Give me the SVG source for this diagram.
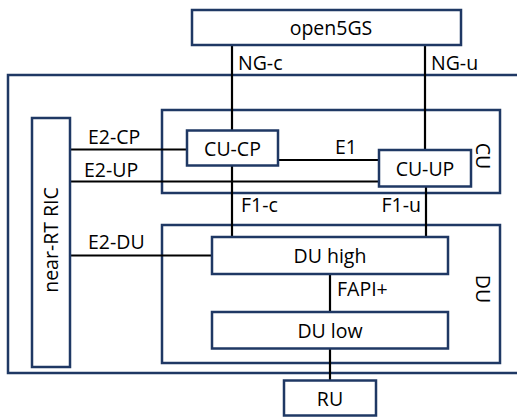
<svg xmlns="http://www.w3.org/2000/svg" width="517" height="417" viewBox="0 0 517 417">
<style>
.box{fill:#fff;stroke:#1f3864;stroke-width:2.5}
.frame{fill:none;stroke:#1f3864;stroke-width:2.5}
.ln{stroke:#000;stroke-width:2.2;fill:none}
text{font-family:"Open Sans","Noto Sans",sans-serif;font-size:19.5px;fill:#000}
.c{text-anchor:middle}
</style>
<rect width="517" height="417" fill="#fff"/>
<g id="outer"><rect class="frame" x="8" y="75" width="520" height="298"/></g>
<g id="cu"><rect class="frame" x="162" y="110" width="338" height="83"/><text class="c" transform="translate(476,156) rotate(90)">CU</text></g>
<g id="du"><rect class="frame" x="162" y="225" width="338" height="138"/><text class="c" transform="translate(476,289) rotate(90)">DU</text></g>
<g id="connectors">
<line class="ln" x1="232" y1="45" x2="232" y2="130"/>
<line class="ln" x1="425" y1="45" x2="425" y2="150"/>
<line class="ln" x1="70" y1="149.5" x2="187" y2="149.5"/>
<line class="ln" x1="70" y1="181.5" x2="379" y2="181.5"/>
<line class="ln" x1="278" y1="160" x2="379" y2="160"/>
<line class="ln" x1="232" y1="166" x2="232" y2="237"/>
<line class="ln" x1="426" y1="187" x2="426" y2="237"/>
<line class="ln" x1="70" y1="255.5" x2="212" y2="255.5"/>
<line class="ln" x1="330" y1="274" x2="330" y2="312"/>
<line class="ln" x1="330" y1="349" x2="330" y2="380"/>
<text x="238" y="70">NG-c</text>
<text x="431" y="70">NG-u</text>
<text x="88" y="144">E2-CP</text>
<text x="84" y="177">E2-UP</text>
<text class="c" x="346" y="154">E1</text>
<text x="241" y="212">F1-c</text>
<text x="421" y="212" text-anchor="end">F1-u</text>
<text x="88" y="249">E2-DU</text>
<text x="337" y="296">FAPI+</text>
</g>
<g id="open5gs"><rect class="box" x="192" y="10" width="269" height="35"/><text class="c" x="331" y="34.5">open5GS</text></g>
<g id="ric"><rect class="box" x="32" y="118" width="38" height="249"/><text class="c" transform="translate(58,240) rotate(-90)">near-RT RIC</text></g>
<g id="cucp"><rect class="box" x="187" y="130.5" width="91" height="35"/><text class="c" x="232.5" y="155.5">CU-CP</text></g>
<g id="cuup"><rect class="box" x="379" y="150" width="92" height="36.5"/><text class="c" x="425" y="175.5">CU-UP</text></g>
<g id="duhigh"><rect class="box" x="212" y="237" width="236" height="37"/><text class="c" x="330" y="263">DU high</text></g>
<g id="dulow"><rect class="box" x="212" y="312" width="236" height="36.5"/><text class="c" x="330" y="337.5">DU low</text></g>
<g id="ru"><rect class="box" x="284" y="380.5" width="92" height="35"/><text class="c" x="330" y="405.5">RU</text></g>
</svg>
